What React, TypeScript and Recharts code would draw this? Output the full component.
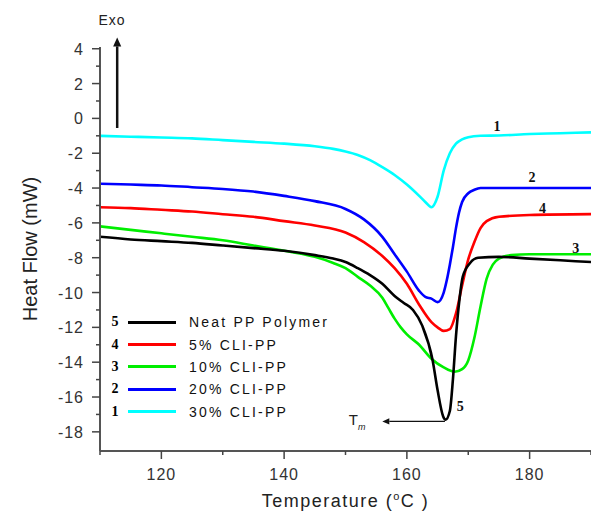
import { LineChart, Line, XAxis, YAxis, Legend, ReferenceLine, ReferenceDot } from 'recharts';

// DSC thermograms (temperature in °C, heat flow in mW)
const neatPP = [
  { x: 110, y: -6.8 }, { x: 115, y: -6.95 }, { x: 120, y: -7.05 }, { x: 125, y: -7.15 },
  { x: 130, y: -7.3 }, { x: 135, y: -7.45 }, { x: 140, y: -7.6 }, { x: 145, y: -7.85 },
  { x: 148, y: -8.05 }, { x: 150, y: -8.25 }, { x: 152, y: -8.6 }, { x: 154, y: -9.0 },
  { x: 156, y: -9.5 }, { x: 158, y: -10.2 }, { x: 159.5, y: -10.6 }, { x: 161, y: -11.0 },
  { x: 162.5, y: -11.9 }, { x: 164.2, y: -13.9 }, { x: 165, y: -15.6 }, { x: 165.9, y: -17.1 },
  { x: 166.3, y: -17.3 }, { x: 167, y: -16.8 }, { x: 167.5, y: -15.0 }, { x: 168, y: -12.5 },
  { x: 168.6, y: -10.3 }, { x: 169.1, y: -9.1 }, { x: 170.3, y: -8.3 }, { x: 171.6, y: -8.0 },
  { x: 175, y: -7.95 }, { x: 180, y: -8.05 }, { x: 185, y: -8.15 }, { x: 190, y: -8.25 },
];

const cli5 = [
  { x: 110, y: -5.1 }, { x: 115, y: -5.15 }, { x: 120, y: -5.25 }, { x: 125, y: -5.35 },
  { x: 130, y: -5.5 }, { x: 135, y: -5.65 }, { x: 140, y: -5.9 }, { x: 145, y: -6.15 },
  { x: 150, y: -6.55 }, { x: 153, y: -7.1 }, { x: 156, y: -7.9 }, { x: 158, y: -8.6 },
  { x: 160, y: -9.5 }, { x: 162, y: -10.7 }, { x: 164, y: -11.7 }, { x: 165, y: -12.0 },
  { x: 166, y: -12.2 }, { x: 167, y: -12.1 }, { x: 168, y: -11.2 }, { x: 169, y: -9.6 },
  { x: 170, y: -8.1 }, { x: 171, y: -7.1 }, { x: 172, y: -6.3 }, { x: 173, y: -5.9 },
  { x: 175, y: -5.65 }, { x: 180, y: -5.55 }, { x: 190, y: -5.5 },
];

const cli10 = [
  { x: 110, y: -6.2 }, { x: 115, y: -6.4 }, { x: 120, y: -6.6 }, { x: 125, y: -6.8 },
  { x: 130, y: -7.0 }, { x: 135, y: -7.3 }, { x: 140, y: -7.6 }, { x: 145, y: -7.95 },
  { x: 148, y: -8.3 }, { x: 150, y: -8.6 }, { x: 152, y: -9.1 }, { x: 154, y: -9.6 },
  { x: 156, y: -10.3 }, { x: 157, y: -10.9 }, { x: 158, y: -11.5 }, { x: 159, y: -12.0 },
  { x: 160, y: -12.4 }, { x: 162, y: -13.0 }, { x: 164, y: -13.8 }, { x: 166, y: -14.3 },
  { x: 167.8, y: -14.55 }, { x: 169, y: -14.4 }, { x: 170, y: -13.9 }, { x: 171, y: -12.6 },
  { x: 172, y: -10.8 }, { x: 173, y: -9.2 }, { x: 174, y: -8.4 }, { x: 175, y: -8.05 },
  { x: 177, y: -7.85 }, { x: 180, y: -7.8 }, { x: 190, y: -7.8 },
];

const cli20 = [
  { x: 110, y: -3.75 }, { x: 115, y: -3.8 }, { x: 120, y: -3.85 }, { x: 125, y: -3.95 },
  { x: 130, y: -4.05 }, { x: 135, y: -4.2 }, { x: 140, y: -4.45 }, { x: 145, y: -4.75 },
  { x: 150, y: -5.2 }, { x: 153, y: -5.8 }, { x: 156, y: -6.8 }, { x: 158, y: -7.8 },
  { x: 160, y: -8.8 }, { x: 162, y: -9.9 }, { x: 163, y: -10.25 }, { x: 164, y: -10.35 },
  { x: 165, y: -10.55 }, { x: 166, y: -10.0 }, { x: 166.5, y: -9.3 }, { x: 167, y: -8.4 },
  { x: 167.5, y: -7.4 }, { x: 168, y: -6.3 }, { x: 168.5, y: -5.4 }, { x: 169, y: -4.8 },
  { x: 170, y: -4.3 }, { x: 171, y: -4.1 }, { x: 172, y: -4.0 }, { x: 180, y: -4.0 },
  { x: 190, y: -4.0 },
];

const cli30 = [
  { x: 110, y: -1.0 }, { x: 115, y: -1.05 }, { x: 120, y: -1.1 }, { x: 125, y: -1.15 },
  { x: 130, y: -1.25 }, { x: 135, y: -1.35 }, { x: 140, y: -1.45 }, { x: 145, y: -1.6 },
  { x: 148, y: -1.75 }, { x: 150, y: -1.9 }, { x: 152, y: -2.1 }, { x: 154, y: -2.4 },
  { x: 156, y: -2.8 }, { x: 158, y: -3.25 }, { x: 160, y: -3.8 }, { x: 162, y: -4.45 },
  { x: 163, y: -4.8 }, { x: 164, y: -5.1 }, { x: 165, y: -4.5 }, { x: 166, y: -3.0 },
  { x: 167, y: -2.0 }, { x: 168, y: -1.45 }, { x: 169, y: -1.2 }, { x: 170, y: -1.08 },
  { x: 172, y: -1.0 }, { x: 175, y: -0.98 }, { x: 180, y: -0.9 }, { x: 185, y: -0.85 },
  { x: 190, y: -0.8 },
];

const series = [
  { num: '1', name: '30% CLI-PP', color: '#00ffff', data: cli30 },
  { num: '2', name: '20% CLI-PP', color: '#0000ff', data: cli20 },
  { num: '3', name: '10% CLI-PP', color: '#00ee00', data: cli10 },
  { num: '4', name: '5% CLI-PP', color: '#ff0000', data: cli5 },
  { num: '5', name: 'Neat PP Polymer', color: '#000000', data: neatPP },
];

const xTicks = [110, 120, 130, 140, 150, 160, 170, 180, 190];
const xMajor = [120, 140, 160, 180];
const yTicks = [4, 3, 2, 1, 0, -1, -2, -3, -4, -5, -6, -7, -8, -9, -10, -11, -12, -13, -14, -15, -16, -17, -18];

// curve numbers placed next to each trace
const curveTags = [
  { x: 174.7, y: -0.45, text: '1' },
  { x: 180.4, y: -3.4, text: '2' },
  { x: 182.1, y: -5.15, text: '4' },
  { x: 187.5, y: -7.45, text: '3' },
  { x: 168.7, y: -16.55, text: '5' },
];

const sans = '"Liberation Sans", Arial, sans-serif';
const serif = '"Liberation Serif", "Times New Roman", serif';

const YTick = (props: any) => {
  const { x, y, payload } = props;
  const major = payload.value % 2 === 0;
  return (
    <g>
      <line x1={x - (major ? 8 : 4)} x2={x} y1={y} y2={y} stroke="#444" strokeWidth={1.5} />
      {major && (
        <text x={x - 16} y={y} dy={6} textAnchor="end" fontSize={16} fill="#333" fontFamily={sans} letterSpacing={1}>
          {payload.value}
        </text>
      )}
    </g>
  );
};

const XTick = (props: any) => {
  const { x, y, payload } = props;
  const major = xMajor.includes(payload.value);
  return (
    <g>
      <line x1={x} x2={x} y1={y} y2={y + (major ? 8 : 4)} stroke="#444" strokeWidth={1.5} />
      {major && (
        <text x={x} y={y + 29} textAnchor="middle" fontSize={16} fill="#333" fontFamily={sans} letterSpacing={1}>
          {payload.value}
        </text>
      )}
    </g>
  );
};

const Arrow = (props: any) => {
  const { x1, y1, x2, y2, head = 7, width = 1.5 } = props;
  const a = Math.atan2(y2 - y1, x2 - x1);
  const w = head * 0.45;
  const bx = x2 - head * Math.cos(a);
  const by = y2 - head * Math.sin(a);
  const pts = [
    `${x2},${y2}`,
    `${bx + w * Math.sin(a)},${by - w * Math.cos(a)}`,
    `${bx - w * Math.sin(a)},${by + w * Math.cos(a)}`,
  ].join(' ');
  return (
    <g>
      <line x1={x1} y1={y1} x2={bx} y2={by} stroke="#111" strokeWidth={width} />
      <polygon points={pts} fill="#111" />
    </g>
  );
};

const LegendBox = () => (
  <div style={{ fontFamily: sans }}>
    {[...series].reverse().map((s) => (
      <div key={s.num} style={{ display: 'flex', alignItems: 'center', height: 22.4 }}>
        <span style={{ width: 14, fontFamily: serif, fontWeight: 'bold', fontSize: 14, textAlign: 'center' }}>{s.num}</span>
        <span style={{ width: 48, height: 3, background: s.color, marginLeft: 6 }} />
        <span style={{ marginLeft: 13, fontSize: 14, letterSpacing: 2.2, color: '#111' }}>{s.name}</span>
      </div>
    ))}
  </div>
);

const App = () => {
  return (
    <div style={{ position: 'absolute', left: 0, top: 0, background: '#fff' }}>
      <LineChart width={591} height={522} margin={{ top: 47, right: 0, left: 0, bottom: 0 }}>
        <XAxis
          type="number"
          dataKey="x"
          domain={[110, 190]}
          ticks={xTicks}
          interval={0}
          allowDataOverflow
          tickSize={0}
          tickMargin={0}
          tickLine={false}
          tick={<XTick />}
          height={71}
          axisLine={{ stroke: '#555', strokeWidth: 2 }}
          label={{
            content: (p: any) => (
              <text x={p.viewBox.x + p.viewBox.width / 2} y={p.viewBox.y + 56} textAnchor="middle" fontSize={18} fill="#222" fontFamily={sans} letterSpacing={1.5}>
                Temperature (<tspan dy={-7} fontSize={11}>o</tspan><tspan dy={7}>C )</tspan>
              </text>
            ),
          }}
        />
        <YAxis
          type="number"
          dataKey="y"
          domain={[-19.1, 4.1]}
          ticks={yTicks}
          interval={0}
          allowDataOverflow
          tickSize={0}
          tickMargin={0}
          tickLine={false}
          tick={<YTick />}
          width={100}
          axisLine={{ stroke: '#555', strokeWidth: 2 }}
          label={{
            content: (p: any) => {
              const cx = p.viewBox.x + 30;
              const cy = p.viewBox.y + p.viewBox.height / 2;
              return (
                <text x={cx} y={cy} transform={`rotate(-90 ${cx} ${cy})`} textAnchor="middle" dominantBaseline="central" fontSize={20} fill="#222" fontFamily={sans}>
                  Heat Flow (mW)
                </text>
              );
            },
          }}
        />
        <Legend
          layout="horizontal"
          verticalAlign="middle"
          align="center"
          content={<LegendBox />}
          wrapperStyle={{ left: 108, top: 311, width: 260 }}
        />
        {series.map((s) => (
          <Line
            key={s.num}
            data={s.data}
            dataKey="y"
            name={s.name}
            type="monotone"
            stroke={s.color}
            strokeWidth={2.6}
            dot={false}
            isAnimationActive={false}
          />
        ))}
        {/* Exo arrow and T_m marker */}
        <ReferenceLine
          segment={[{ x: 112.8, y: -0.55 }, { x: 112.8, y: 4.65 }]}
          ifOverflow="visible"
          shape={(p: any) => <Arrow {...p} head={9} width={2.5} />}
        />
        <ReferenceLine
          segment={[{ x: 166.2, y: -17.4 }, { x: 156.0, y: -17.4 }]}
          ifOverflow="visible"
          shape={(p: any) => <Arrow {...p} head={7} width={1.3} />}
        />
        <ReferenceDot
          x={111.95}
          y={5.65}
          ifOverflow="visible"
          shape={(p: any) => (
            <text x={p.cx} y={p.cy} textAnchor="middle" dominantBaseline="central" fontSize={14} fill="#222" fontFamily={sans} letterSpacing={1}>
              Exo
            </text>
          )}
        />
        <ReferenceDot
          x={151.9}
          y={-17.25}
          ifOverflow="visible"
          shape={(p: any) => (
            <text x={p.cx} y={p.cy + 6} textAnchor="middle" fontSize={15} fill="#222" fontFamily={sans}>
              T<tspan dy={5} fontSize={9} fontStyle="italic">m</tspan>
            </text>
          )}
        />
        {curveTags.map((t) => (
          <ReferenceDot
            key={t.text}
            x={t.x}
            y={t.y}
            ifOverflow="visible"
            shape={(p: any) => (
              <text x={p.cx} y={p.cy} textAnchor="middle" dominantBaseline="central" fontSize={14} fontWeight="bold" fill="#111" fontFamily={serif}>
                {t.text}
              </text>
            )}
          />
        ))}
      </LineChart>
    </div>
  );
};

export default App;
